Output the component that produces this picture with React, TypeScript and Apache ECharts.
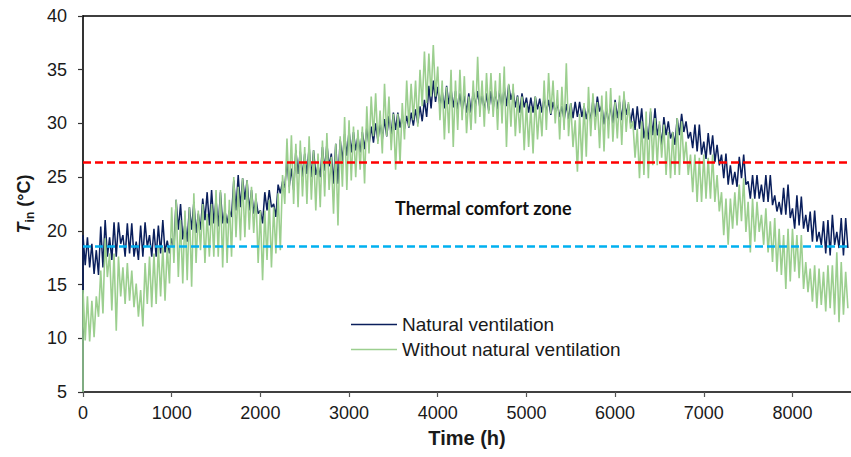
import React, { useEffect, useRef } from "react";
import * as echarts from "echarts";

// Time grid: each 50 h block holds one peak reading (at the block start)
// and one trough reading (25 h later).
const blockHours = 50;
const initialTemp = 5;

// Natural ventilation (navy) – block peaks, hours 0 … 8600
const natHigh = [
  19.6, 19.4, 18.8, 18.2, 20.4, 21.0, 19.4, 20.8, 20.8, 19.6,
  20.7, 20.7, 19.0, 20.5, 20.8, 19.6, 20.2, 20.5, 21.0, 19.1,
  19.3, 22.9, 22.5, 20.7, 22.2, 22.7, 21.6, 23.0, 23.6, 23.8,
  22.9, 23.6, 21.9, 21.9, 24.7, 25.2, 24.9, 24.7, 23.8, 23.0,
  21.9, 23.6, 23.8, 22.5, 24.3, 24.6, 26.6, 25.8, 27.5, 27.4,
  27.2, 27.8, 27.5, 26.1, 27.8, 28.1, 27.2, 28.1,
  28.5, 29.0, 29.3, 29.2, 28.8, 29.2, 29.6, 29.7, 30.0, 30.1,
  30.4, 30.7, 31.0, 31.0, 30.8, 30.7, 31.0, 31.3, 31.6, 32.2,
  33.5, 34.0, 33.4, 33.0, 33.5, 33.2, 33.0, 32.8, 32.6, 32.8,
  33.0, 33.0, 32.8, 32.8, 33.0, 33.0, 33.2, 33.4, 33.6, 33.0,
  32.6, 32.8, 32.4, 32.4, 32.5, 32.3, 32.4, 32.2, 32.0, 31.8,
  31.6, 31.8, 31.9, 32.0, 32.0, 31.6, 31.6, 32.2,
  32.5, 31.7, 31.5, 31.8, 32.2, 32.0, 32.5, 31.8, 31.4, 31.6,
  31.4, 29.9, 31.1, 31.4, 29.9, 30.6, 30.2, 29.2, 30.5, 30.9,
  30.2, 29.2, 29.9, 29.9, 28.3, 29.1, 28.9, 28.0, 27.1, 27.2,
  26.1, 25.5, 26.9, 27.1, 24.6, 25.2, 25.2, 24.3, 25.2, 25.2,
  23.3, 22.7, 24.0, 24.3, 22.1, 23.3, 23.2, 21.5, 21.8, 21.9,
  19.9, 20.9, 21.0, 21.5, 19.9, 21.2, 21.2,
];
// Natural ventilation (navy) – block troughs
const natLow = [
  16.8, 16.6, 16.0, 15.9, 16.6, 17.6, 17.3, 17.6, 18.8, 17.6,
  17.9, 17.6, 17.3, 17.6, 18.5, 17.6, 17.6, 17.9, 18.0, 17.9,
  18.3, 20.1, 19.2, 19.0, 20.1, 19.8, 20.1, 21.0, 20.5, 20.7,
  20.4, 20.7, 20.7, 21.3, 21.9, 22.2, 22.9, 21.9, 21.6, 21.6,
  20.7, 21.9, 22.2, 21.3, 23.5, 24.0, 24.1, 23.8, 25.3, 25.0,
  25.3, 25.0, 25.2, 25.0, 25.6, 26.0, 24.4, 24.4,
  26.5, 27.0, 27.3, 27.5, 27.3, 27.6, 28.0, 28.2, 28.4, 28.5,
  28.8, 29.0, 29.4, 29.6, 29.5, 29.6, 29.8, 30.0, 30.2, 30.6,
  31.4, 32.0, 31.6, 31.4, 31.8, 31.5, 31.3, 31.2, 31.0, 31.0,
  31.6, 31.5, 31.2, 31.2, 31.4, 31.3, 31.4, 31.6, 32.2, 31.5,
  31.0, 31.5, 31.0, 31.0, 31.3, 31.0, 31.0, 30.8, 31.0, 30.6,
  30.3, 30.4, 30.5, 30.6, 30.6, 30.4, 30.2, 30.6,
  31.1, 29.9, 29.9, 30.0, 30.5, 30.3, 30.8, 30.0, 29.4, 29.5,
  28.6, 28.5, 28.9, 28.9, 28.0, 28.9, 28.6, 28.0, 28.9, 29.2,
  28.6, 27.7, 27.4, 27.1, 26.7, 27.1, 26.4, 26.1, 24.9, 24.3,
  24.3, 24.1, 24.9, 24.3, 23.0, 23.0, 23.0, 22.7, 22.7, 22.4,
  21.8, 21.5, 21.5, 21.2, 20.2, 20.5, 20.2, 19.9, 19.0, 19.0,
  18.7, 17.9, 17.7, 18.7, 18.4, 17.7, 18.4,
];

// Without natural ventilation (light green) – block peaks
const noVentHigh = [
  14.5, 13.9, 13.5, 13.9, 16.3, 19.3, 17.9, 17.9, 17.6, 16.6,
  17.0, 16.3, 15.1, 14.5, 17.0, 17.6, 17.9, 18.5, 18.5, 18.5,
  22.2, 22.9, 21.0, 21.9, 22.2, 23.5, 21.9, 22.5, 21.6, 22.5,
  23.8, 23.8, 23.5, 22.9, 25.0, 24.1, 24.9, 24.7, 24.1, 23.5,
  21.9, 21.9, 22.9, 22.2, 23.5, 25.2, 28.6, 28.9, 28.1, 28.4,
  27.8, 28.8, 27.5, 27.2, 28.4, 29.1, 26.9, 28.1,
  28.8, 30.6, 30.3, 29.7, 29.4, 29.7, 31.6, 32.5, 32.8, 31.2,
  33.7, 32.5, 30.9, 30.9, 31.9, 34.0, 33.7, 34.0, 35.0, 36.7,
  36.5, 37.3, 35.3, 34.0, 33.4, 35.0, 34.0, 35.0, 34.4, 32.5,
  34.0, 36.2, 34.0, 34.7, 34.7, 34.0, 34.7, 35.3, 33.7, 33.7,
  32.5, 32.5, 31.9, 31.6, 32.5, 31.6, 34.0, 34.7, 34.0, 33.1,
  33.4, 35.6, 31.9, 30.3, 30.9, 31.9, 33.4, 32.8,
  32.0, 32.6, 33.0, 33.3, 32.0, 32.6, 33.0, 32.0, 30.2, 29.5,
  30.2, 31.1, 31.4, 30.5, 30.2, 29.9, 29.2, 29.2, 30.5, 30.2,
  28.3, 27.1, 27.1, 26.8, 27.1, 26.8, 27.1, 25.2, 23.6, 23.0,
  23.0, 23.6, 24.3, 24.9, 22.7, 23.0, 22.7, 21.5, 22.1, 20.9,
  21.2, 20.2, 19.6, 20.2, 20.2, 19.6, 19.6, 17.1, 16.5, 16.8,
  16.5, 16.2, 16.8, 16.8, 18.0, 17.1, 16.2,
];
// Without natural ventilation (light green) – block troughs
const noVentLow = [
  9.8, 9.7, 10.1, 12.0, 12.3, 15.7, 12.6, 10.7, 13.9, 13.2,
  13.5, 12.9, 12.0, 11.1, 13.2, 12.9, 13.2, 13.9, 13.5, 15.1,
  17.0, 15.7, 15.1, 15.4, 14.8, 17.0, 18.2, 17.0, 17.6, 17.6,
  17.6, 16.6, 17.0, 17.6, 19.4, 19.1, 19.4, 20.1, 19.8, 17.0,
  15.4, 17.3, 16.6, 17.9, 18.2, 22.5, 23.5, 22.5, 22.2, 23.2,
  22.5, 22.9, 21.9, 22.2, 23.2, 23.8, 21.6, 20.5,
  24.1, 23.8, 24.7, 25.0, 25.7, 24.4, 27.2, 28.8, 28.1, 27.2,
  28.8, 27.5, 25.7, 26.3, 28.5, 29.7, 30.3, 29.7, 31.6, 31.9,
  32.5, 32.5, 30.3, 28.5, 29.1, 27.8, 29.4, 30.3, 29.1, 29.4,
  30.0, 30.6, 29.7, 30.9, 30.6, 29.4, 30.0, 27.8, 29.7, 28.8,
  29.1, 27.5, 27.8, 27.2, 28.5, 28.8, 29.4, 30.9, 30.0, 28.5,
  29.4, 28.8, 27.8, 25.5, 26.3, 26.9, 28.8, 29.4,
  27.7, 27.4, 28.6, 28.3, 28.6, 28.0, 29.2, 29.5, 26.8, 24.9,
  25.2, 24.9, 26.1, 26.1, 26.8, 25.2, 24.9, 25.2, 25.2, 26.4,
  25.2, 23.6, 22.7, 22.7, 23.0, 23.0, 22.7, 21.8, 19.6, 18.7,
  20.2, 20.5, 20.9, 19.9, 18.0, 19.0, 19.9, 18.7, 18.0, 17.1,
  16.2, 15.9, 14.6, 15.3, 16.2, 15.6, 14.6, 14.3, 13.4, 12.8,
  13.1, 12.5, 12.8, 12.2, 11.5, 12.2, 12.8,
];

const comfortUpper = 26.4;
const comfortLower = 18.6;
const xTicks = [0, 1000, 2000, 3000, 4000, 5000, 6000, 7000, 8000];
const seriesNames = ["Natural ventilation", "Without natural ventilation"];
const annotation = "Thermal comfort zone";

function buildSeries(high: number[], low: number[]) {
  const pts: [number, number][] = [[0, initialTemp]];
  for (let k = 0; k < high.length; k++) {
    pts.push([k * blockHours, high[k]]);
    pts.push([k * blockHours + blockHours / 2, low[k]]);
  }
  return pts;
}

const FONT = "'Liberation Sans', Arial, sans-serif";
const TEXT = "#1a1a1a";

export default function App() {
  const ref = useRef<HTMLDivElement>(null);
  useEffect(() => {
    if (!ref.current) return;
    const chart = echarts.init(ref.current, null, { renderer: "svg" });
    const xMin = 0;
    const xMax = 8660;
    chart.setOption({
      animation: false,
      backgroundColor: "#fff",
      grid: { left: 83, right: 0, top: 16, bottom: 65, containLabel: false },
      legend: {
        data: seriesNames,
        orient: "vertical",
        left: 351,
        top: 315,
        padding: 0,
        icon: "rect",
        itemWidth: 46,
        itemHeight: 1.5,
        itemGap: 6,
        textStyle: { fontFamily: FONT, fontSize: 19, color: TEXT, lineHeight: 19 },
        selectedMode: false,
      },
      xAxis: [
        {
          type: "value",
          min: xMin,
          max: xMax,
          interval: 1000,
          name: "Time (h)",
          nameLocation: "middle",
          nameGap: 36,
          nameTextStyle: { fontFamily: FONT, fontSize: 20, fontWeight: "bold", color: TEXT },
          axisLine: { show: true, lineStyle: { color: "#000", width: 1.6 } },
          axisTick: { show: true, length: 5, lineStyle: { color: "#555", width: 1.2 }, customValues: xTicks },
          axisLabel: {
            fontFamily: FONT,
            fontSize: 18,
            color: TEXT,
            margin: 12,
            customValues: xTicks,
            formatter: (v: number) => String(v),
          },
          splitLine: { show: false },
        },
        {
          type: "value",
          position: "top",
          min: xMin,
          max: xMax,
          axisLine: { show: true, lineStyle: { color: "#000", width: 1.6 } },
          axisTick: { show: false },
          axisLabel: { show: false },
          splitLine: { show: false },
        },
      ],
      yAxis: {
        type: "value",
        min: 5,
        max: 40,
        interval: 5,
        name: "{t|T}{sub|in}{u| (°C)}",
        nameLocation: "middle",
        nameGap: 45,
        nameRotate: 90,
        nameTextStyle: {
          rich: {
            t: { fontFamily: FONT, fontSize: 18, fontWeight: "bold", fontStyle: "italic", color: TEXT, lineHeight: 24 },
            sub: { fontFamily: FONT, fontSize: 12, fontWeight: "bold", color: TEXT, lineHeight: 12, verticalAlign: "bottom" },
            u: { fontFamily: FONT, fontSize: 18, fontWeight: "bold", color: TEXT, lineHeight: 24 },
          },
        },
        axisLine: { show: true, lineStyle: { color: "#000", width: 1.6 } },
        axisTick: { show: true, length: 5, lineStyle: { color: "#333", width: 1.2 } },
        axisLabel: { fontFamily: FONT, fontSize: 18, color: TEXT, margin: 16 },
        splitLine: { show: false },
      },
      series: [
        {
          name: seriesNames[0],
          type: "line",
          data: buildSeries(natHigh, natLow),
          symbol: "none",
          lineStyle: { color: "#0a1f5c", width: 1.5 },
          itemStyle: { color: "#0a1f5c" },
          emphasis: { disabled: true },
        },
        {
          name: seriesNames[1],
          type: "line",
          data: buildSeries(noVentHigh, noVentLow),
          symbol: "none",
          lineStyle: { color: "#9ccf8f", width: 1.6 },
          itemStyle: { color: "#9ccf8f" },
          emphasis: { disabled: true },
          markLine: {
            silent: true,
            symbol: ["none", "none"],
            label: { show: false },
            emphasis: { disabled: true },
            data: [
              { yAxis: comfortUpper, lineStyle: { color: "#ff0000", width: 2.5, type: [8, 4] } },
              { yAxis: comfortLower, lineStyle: { color: "#00b0f0", width: 2.5, type: [8, 4] } },
            ],
          },
        },
      ],
      graphic: [
        {
          type: "text",
          left: 395,
          top: 199,
          style: {
            text: annotation,
            fontFamily: "Lato, 'Open Sans', sans-serif",
            fontSize: 18,
            fontWeight: "bold",
            fill: "#111",
          },
        },
      ],
    });
    return () => chart.dispose();
  }, []);
  return (
    <div
      ref={ref}
      style={{ position: "fixed", left: 0, top: 0, width: 851, height: 457 }}
    />
  );
}
